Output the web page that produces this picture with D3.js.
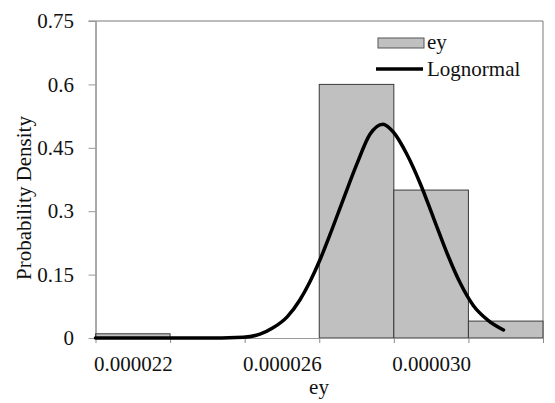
<!DOCTYPE html>
<html>
<head>
<meta charset="utf-8">
<script src="https://cdn.jsdelivr.net/npm/d3@7"></script>
<style>
  body { margin: 0; background: #fff; }
  svg { display: block; }
  text { font-family: "Liberation Serif", "Times New Roman", serif; }
</style>
</head>
<body>
<svg width="555" height="403"></svg>
<script>
// histogram of ey with fitted lognormal curve

// bin edges (low / high) and relative frequency per bin
var binLow = [0.000021, 0.000023, 0.000025, 0.000027, 0.000029, 0.000031];
var binHigh = [0.000023, 0.000025, 0.000027, 0.000029, 0.000031, 0.000033];
var freq = [0.01, 0, 0, 0.6, 0.35, 0.04];

// lognormal curve points
var curveX = [
  0.00002100, 0.00002380, 0.00002496, 0.00002541, 0.00002576, 0.00002614,
  0.00002648, 0.00002675, 0.00002702, 0.00002729, 0.00002764, 0.00002801,
  0.00002836, 0.00002871, 0.00002898, 0.00002936, 0.00002971, 0.00003006,
  0.00003043, 0.00003078, 0.00003113, 0.00003151, 0.00003194
];
var curveY = [
  0, 0, 0.002, 0.009, 0.024, 0.050,
  0.090, 0.133, 0.185, 0.245, 0.327, 0.412,
  0.482, 0.506, 0.488, 0.433, 0.365, 0.285,
  0.200, 0.130, 0.077, 0.043, 0.019
];

// axis ticks
var yTicks = [0, 0.15, 0.3, 0.45, 0.6, 0.75];
var xEdgeTicks = [0.000021, 0.000023, 0.000025, 0.000027, 0.000029, 0.000031, 0.000033];
var xLabelTicks = [0.000022, 0.000026, 0.000030];

var svg = d3.select("svg");

// plot area
const plotL = 95.5, plotR = 543, plotT = 21, plotB = 338;

const x = d3.scaleLinear().domain([0.000021, 0.000033]).range([plotL, plotR]);
const y = d3.scaleLinear().domain([0, 0.75]).range([plotB, plotT]);

const fontSize = "21px";

// plot border (top and right)
svg.append("path")
  .attr("d", `M${plotL - 7},${plotT}H${plotR}V${plotB}`)
  .attr("fill", "none")
  .attr("stroke", "#7a7a7a")
  .attr("stroke-width", 1);

// bars
var bars = binLow.map((d, i) => ({ lo: d, hi: binHigh[i], v: freq[i] }))
  .filter(d => d.v > 0);
svg.append("g")
  .selectAll("rect")
  .data(bars)
  .enter()
  .append("rect")
  .attr("x", d => x(d.lo))
  .attr("y", d => y(d.v))
  .attr("width", d => x(d.hi) - x(d.lo))
  .attr("height", d => y(0) - y(d.v))
  .attr("fill", "#c0c0c0")
  .attr("stroke", "#3a3a3a")
  .attr("stroke-width", 1);

// x axis: ticks at bin edges, labels at bin centres
var xAxis = svg.append("g")
  .attr("transform", `translate(0,${plotB})`)
  .call(d3.axisBottom(x).tickValues(xEdgeTicks).tickSize(5).tickFormat("").tickSizeOuter(0));
xAxis.select(".domain").attr("stroke", "#9a9a9a");
xAxis.selectAll(".tick line").attr("stroke", "#8a8a8a");

var xLabels = svg.append("g")
  .attr("transform", `translate(0,${plotB})`)
  .call(d3.axisBottom(x).tickValues(xLabelTicks).tickSize(0).tickPadding(18)
    .tickFormat(d3.format(".6f")));
xLabels.select(".domain").remove();
xLabels.selectAll("text")
  .style("font-size", fontSize)
  .style("font-family", "'Liberation Serif', serif")
  .attr("fill", "#111");

// y axis
var yAxis = svg.append("g")
  .attr("transform", `translate(${plotL},0)`)
  .call(d3.axisLeft(y).tickValues(yTicks).tickSize(7).tickPadding(14.5)
    .tickSizeOuter(0).tickFormat(d => String(d)));
yAxis.select(".domain").attr("stroke", "#555");
yAxis.selectAll(".tick line").attr("stroke", "#999");
yAxis.selectAll("text")
  .style("font-size", fontSize)
  .style("font-family", "'Liberation Serif', serif")
  .attr("fill", "#111");

// lognormal curve
var line = d3.line()
  .x((d, i) => x(curveX[i]))
  .y(d => y(d))
  .curve(d3.curveMonotoneX);
svg.append("path")
  .datum(curveY)
  .attr("d", line)
  .attr("fill", "none")
  .attr("stroke", "#000")
  .attr("stroke-width", 3.5)
  .attr("stroke-linecap", "round");

// axis titles
svg.append("text")
  .attr("x", 319)
  .attr("y", 394)
  .attr("text-anchor", "middle")
  .style("font-size", fontSize)
  .attr("fill", "#111")
  .text("ey");

svg.append("text")
  .attr("transform", "translate(31,198) rotate(-90)")
  .attr("text-anchor", "middle")
  .style("font-size", fontSize)
  .attr("fill", "#111")
  .text("Probability Density");

// legend
var legend = svg.append("g");
legend.append("rect")
  .attr("x", 378).attr("y", 38)
  .attr("width", 46).attr("height", 10)
  .attr("fill", "#c0c0c0")
  .attr("stroke", "#555");
legend.append("text")
  .attr("x", 427).attr("y", 49)
  .style("font-size", fontSize)
  .attr("fill", "#111")
  .text("ey");
legend.append("line")
  .attr("x1", 376).attr("x2", 423)
  .attr("y1", 69).attr("y2", 69)
  .attr("stroke", "#000")
  .attr("stroke-width", 3.5);
legend.append("text")
  .attr("x", 427).attr("y", 76)
  .style("font-size", fontSize)
  .attr("fill", "#111")
  .text("Lognormal");
</script>
</body>
</html>
